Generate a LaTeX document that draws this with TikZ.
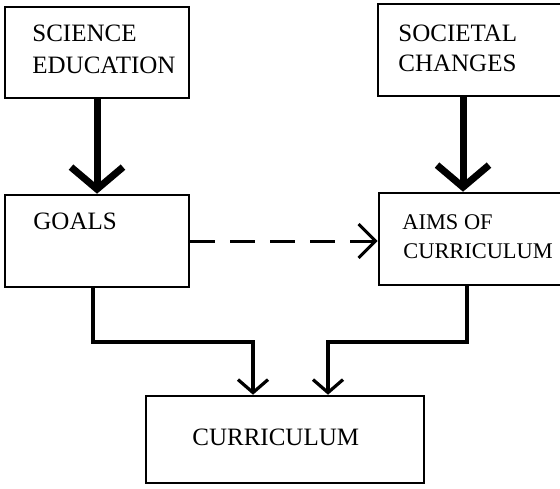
\documentclass[tikz,border=0pt]{standalone}
\usepackage{fontspec}
\setmainfont{Liberation Serif}
\usetikzlibrary{arrows.meta}
\begin{document}
\begin{tikzpicture}[x=0.5pt,y=-0.5pt,
  box/.style={draw=black,line width=1.3pt,rectangle,inner sep=0pt},
  lbl/.style={anchor=base west,inner sep=0pt,font=\fontsize{12.5}{15}\selectfont},
  smalllbl/.style={lbl,font=\fontsize{11.2}{13}\selectfont},
  thickarrow/.style={line width=3.5pt,-{Straight Barb[length=11pt,width=26pt]}},
  thinarrow/.style={line width=1.6pt,-{Straight Barb[length=6.5pt,width=15pt]}},
  dasharrow/.style={line width=1.5pt,dash pattern=on 12.5pt off 7.5pt,-{Straight Barb[length=8.5pt,width=17pt]}}]
\useasboundingbox (0,0) rectangle (560,488);
\node[box,minimum width=92pt,minimum height=45.5pt] (se) at (97,52.5) {};
\node[box,minimum width=94pt,minimum height=46pt] (sc) at (472,50) {};
\node[box,minimum width=92pt,minimum height=46pt] (goals) at (97,241) {};
\node[box,minimum width=93.5pt,minimum height=46pt] (aims) at (472.5,239) {};
\node[box,minimum width=139pt,minimum height=43.5pt] (cur) at (285,439.5) {};
\node[lbl] (t1) at (32,41) {SCIENCE};
\node[lbl] (t2) at (32,73) {EDUCATION};
\node[lbl] (t3) at (398,41) {SOCIETAL};
\node[lbl] (t4) at (398,71) {CHANGES};
\node[lbl] (t5) at (33,229) {GOALS};
\node[smalllbl] (t6) at (402,229) {AIMS OF};
\node[smalllbl] (t7) at (403,258) {CURRICULUM};
\node[lbl] (t8) at (192,445) {CURRICULUM};
\coordinate (scx) at (463,0);
\coordinate (lx) at (93,0);
\coordinate (lx2) at (253,0);
\coordinate (rx) at (467,0);
\coordinate (rx2) at (328,0);
\coordinate (my) at (0,342);
\draw[thickarrow] (se.south) -- (goals.north);
\draw[thickarrow] (sc.south -| scx) -- (aims.north -| scx);
\draw[dasharrow] (goals.east) -- (goals.east -| aims.west);
\draw[thinarrow] (goals.south -| lx) |- (my -| lx2) -- (cur.north -| lx2);
\draw[thinarrow] (aims.south -| rx) |- (my -| rx2) -- (cur.north -| rx2);
\end{tikzpicture}
\end{document}
